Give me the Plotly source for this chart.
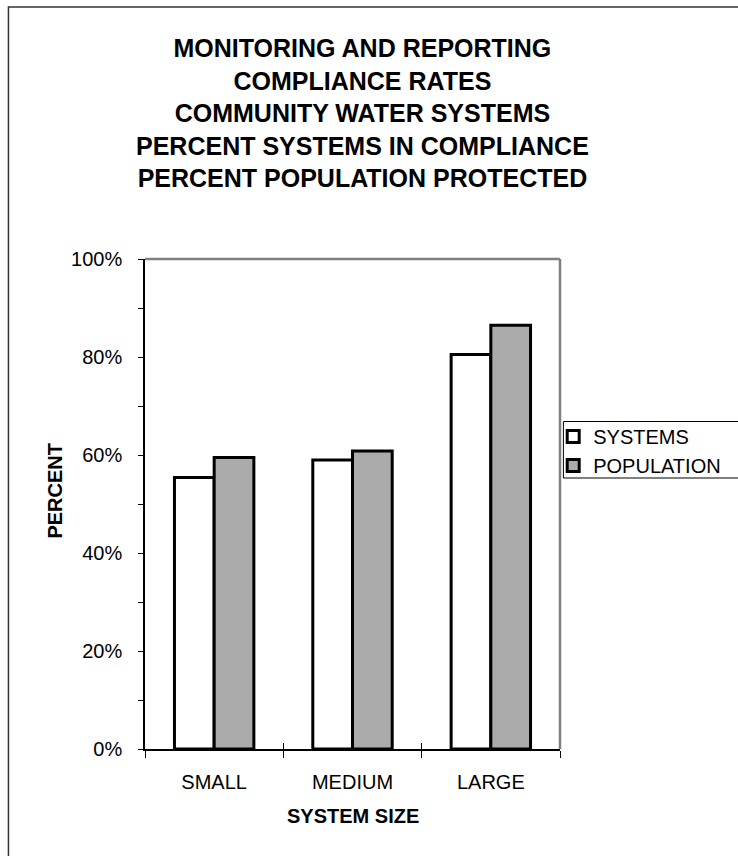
import plotly.graph_objects as go

categories = ["SMALL", "MEDIUM", "LARGE"]
systems = [55.4, 59.0, 80.5]
population = [59.5, 60.8, 86.5]
ytick_vals = [0, 20, 40, 60, 80, 100]
ytick_text = ["0%", "20%", "40%", "60%", "80%", "100%"]
title_lines = ["MONITORING AND REPORTING", "COMPLIANCE RATES", "COMMUNITY WATER SYSTEMS",
               "PERCENT SYSTEMS IN COMPLIANCE", "PERCENT POPULATION PROTECTED"]

W, H = 738, 856
L, R, T, B = 145, 572, 259, 749
FONT = "Arial, Liberation Sans, sans-serif"


def px2x(px):
    return (px - L) / (R - L)


def py2y(py):
    return (B - py) / (B - T)


fig = go.Figure()
fig.add_trace(go.Bar(x=categories, y=systems, name="SYSTEMS",
                     marker=dict(color="white", line=dict(color="black", width=3))))
fig.add_trace(go.Bar(x=categories, y=population, name="POPULATION",
                     marker=dict(color="#ababab", line=dict(color="black", width=3))))
# invisible helper trace for the crossing (inside) category ticks
fig.add_trace(go.Scatter(x=categories, y=[0, 0, 0], xaxis="x2", mode="markers",
                         marker=dict(opacity=0), showlegend=False, hoverinfo="skip"))

fig.update_layout(
    width=W, height=H,
    margin=dict(l=L, r=W - R, t=T, b=H - B),
    paper_bgcolor="white", plot_bgcolor="white",
    barmode="group", bargap=0.426, bargroupgap=0,
    font=dict(family=FONT, size=20, color="black"),
    showlegend=True,
    legend=dict(x=px2x(565), y=py2y(417), xanchor="left", yanchor="top",
                bgcolor="rgba(0,0,0,0)", borderwidth=0,
                font=dict(family=FONT, size=20, color="black"),
                tracegroupgap=0, itemwidth=30),
    xaxis=dict(type="category", categoryarray=categories, range=[-0.5, 2.5],
               showline=True, linecolor="black", linewidth=1.5,
               ticks="outside", tickson="boundaries", ticklen=7, tickcolor="black",
               tickwidth=1, showgrid=False, zeroline=False,
               tickfont=dict(family=FONT, size=20, color="black"),
               ticklabelstandoff=14),
    xaxis2=dict(type="category", categoryarray=categories, range=[-0.5, 2.5],
                overlaying="x", anchor="y", side="bottom",
                ticks="inside", tickson="boundaries", ticklen=6, tickcolor="black",
                tickwidth=1, showticklabels=False, showgrid=False, zeroline=False,
                showline=False),
    yaxis=dict(range=[0, 100], tickvals=ytick_vals, ticktext=ytick_text,
               showline=True, linecolor="black", linewidth=1.5,
               ticks="outside", ticklen=5, tickcolor="black", tickwidth=1,
               minor=dict(dtick=10, tick0=0, ticks="outside", ticklen=5,
                          tickcolor="black", tickwidth=1, showgrid=False),
               showgrid=False, zeroline=False,
               tickfont=dict(family=FONT, size=20, color="black"),
               ticklabelstandoff=12),
)

# plot frame (top and right, grey)
fig.add_shape(type="line", xref="paper", yref="paper", x0=0, x1=1, y0=1, y1=1,
              line=dict(color="#808080", width=2.5))
fig.add_shape(type="line", xref="paper", yref="paper", x0=1, x1=1, y0=0, y1=1,
              line=dict(color="#808080", width=2.5))
# legend box
fig.add_shape(type="rect", xref="paper", yref="paper",
              x0=px2x(575.5), x1=px2x(760), y0=py2y(478), y1=py2y(421.5),
              line=dict(color="black", width=1), fillcolor="rgba(0,0,0,0)")
# outer chart border
fig.add_shape(type="rect", xref="paper", yref="paper",
              x0=px2x(4.5), x1=px2x(800), y0=py2y(900), y1=py2y(7),
              line=dict(color="#333333", width=1.5), fillcolor="rgba(0,0,0,0)")

fig.add_annotation(text="<br>".join(title_lines), xref="paper", yref="paper",
                   x=px2x(369), y=py2y(32), xanchor="center", yanchor="top",
                   showarrow=False, align="center",
                   font=dict(family=FONT, size=25, color="black", weight="bold"))
fig.add_annotation(text="PERCENT", xref="paper", yref="paper", textangle=-90,
                   x=px2x(52), y=py2y(491), xanchor="center", yanchor="middle",
                   showarrow=False,
                   font=dict(family=FONT, size=20, color="black", weight="bold"))
fig.add_annotation(text="SYSTEM SIZE", xref="paper", yref="paper",
                   x=px2x(358.5), y=py2y(816), xanchor="center", yanchor="middle",
                   showarrow=False,
                   font=dict(family=FONT, size=20, color="black", weight="bold"))

fig.write_html("out.html")
